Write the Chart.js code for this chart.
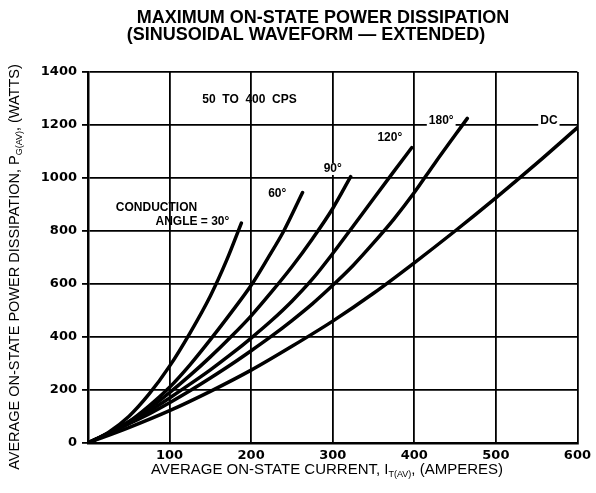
<!DOCTYPE html>
<html>
<head>
<meta charset="utf-8">
<script src="https://cdn.jsdelivr.net/npm/chart.js"></script>
<style>
    html, body { margin: 0; padding: 0; background: #fff; }
    #wrap { width: 596px; height: 493px; }
</style>
</head>
<body>
<div id="wrap"><canvas id="grafico" width="596" height="493"></canvas></div>
<script>
// ejes
const xTicks = [0, 100, 200, 300, 400, 500, 600];
const yTicks = [0, 200, 400, 600, 800, 1000, 1200, 1400];

// corriente (A) y potencia (W) de cada curva
const i30 = [0, 25, 50, 75, 100, 125, 150, 170, 188];
const p30 = [0, 40, 100, 185, 290, 415, 555, 690, 830];

const i60 = [0, 25, 50, 75, 100, 125, 150, 175, 200, 220, 240, 263];
const p60 = [0, 38, 80, 140, 210, 295, 390, 490, 595, 695, 800, 945];

const i90 = [0, 25, 50, 75, 100, 125, 150, 175, 200, 225, 250, 275, 300, 322];
const p90 = [0, 37, 80, 130, 190, 255, 325, 400, 480, 570, 665, 770, 885, 1005];

const i120 = [0, 25, 50, 75, 100, 125, 150, 175, 200, 225, 250, 275, 300, 325, 350, 375, 397];
const p120 = [0, 36, 75, 120, 170, 222, 276, 334, 396, 462, 535, 618, 715, 818, 922, 1025, 1115];

const i180 = [0, 25, 50, 75, 100, 125, 150, 175, 200, 225, 250, 275, 300, 325, 350, 375, 400, 425, 465];
const p180 = [0, 35, 72, 110, 152, 197, 245, 295, 348, 403, 462, 525, 595, 670, 755, 845, 945, 1055, 1225];

const iDC = [0, 50, 100, 150, 200, 250, 300, 350, 400, 450, 500, 550, 600];
const pDC = [0, 58, 122, 195, 275, 365, 460, 565, 680, 800, 925, 1055, 1190];

const curvas = [
    { nombre: "30°", i: i30, p: p30 },
    { nombre: "60°", i: i60, p: p60 },
    { nombre: "90°", i: i90, p: p90 },
    { nombre: "120°", i: i120, p: p120 },
    { nombre: "180°", i: i180, p: p180 },
    { nombre: "DC", i: iDC, p: pDC }
];

// etiquetas dentro de la grafica (posicion en unidades de datos)
const etiquetas = [
    { t: "50  TO  400  CPS", x: 198, y: 1294, fondo: false },
    { t: "CONDUCTION", x: 84, y: 887, fondo: false },
    { t: "ANGLE = 30°", x: 128, y: 834, fondo: false },
    { t: "60°", x: 232, y: 940, fondo: false },
    { t: "90°", x: 300, y: 1034, fondo: true },
    { t: "120°", x: 370, y: 1151, fondo: false },
    { t: "180°", x: 433, y: 1215, fondo: true },
    { t: "DC", x: 565, y: 1215, fondo: true }
];

const FUENTE = '"Liberation Sans", Arial, sans-serif';

function textoConSub(ctx, partes, cx, cy, ang, size) {
    ctx.save();
    ctx.translate(cx, cy);
    ctx.rotate(ang);
    ctx.textBaseline = "middle";
    ctx.textAlign = "left";
    const fMain = size + "px " + FUENTE;
    const fSub = Math.round(size * 0.62) + "px " + FUENTE;
    let total = 0;
    const anchos = partes.map(([t, sub]) => {
        ctx.font = sub ? fSub : fMain;
        const w = ctx.measureText(t).width;
        total += w;
        return w;
    });
    let x = -total / 2;
    partes.forEach(([t, sub], k) => {
        ctx.font = sub ? fSub : fMain;
        ctx.fillText(t, x, sub ? size * 0.3 : 0);
        x += anchos[k];
    });
    ctx.restore();
}

const textos = {
    id: "textos",
    beforeDatasetsDraw(chart) {
        const ctx = chart.ctx;
        const xs = chart.scales.x, ys = chart.scales.y;
        ctx.save();
        ctx.font = "bold 12px " + FUENTE;
        ctx.textAlign = "center";
        ctx.textBaseline = "middle";
        etiquetas.forEach(e => {
            const px = xs.getPixelForValue(e.x);
            const py = ys.getPixelForValue(e.y);
            if (e.fondo) {
                const w = ctx.measureText(e.t).width;
                ctx.fillStyle = "#fff";
                ctx.fillRect(px - w / 2 - 2, py - 6, w + 4, 12);
            }
            ctx.fillStyle = "#000";
            ctx.fillText(e.t, px, py);
        });
        ctx.restore();
    },
    afterDraw(chart) {
        const ctx = chart.ctx;
        ctx.save();
        ctx.fillStyle = "#000";
        ctx.textAlign = "center";
        ctx.textBaseline = "alphabetic";
        ctx.font = "bold 18px " + FUENTE;
        ctx.fillText("MAXIMUM ON-STATE POWER DISSIPATION", 323, 23);
        ctx.fillText("(SINUSOIDAL WAVEFORM — EXTENDED)", 306, 40);
        ctx.restore();

        textoConSub(ctx, [["AVERAGE ON-STATE CURRENT, I", false], ["T(AV)", true], [", (AMPERES)", false]],
            327, 470, 0, 15);
        textoConSub(ctx, [["AVERAGE ON-STATE POWER DISSIPATION, P", false], ["G(AV)", true], [", (WATTS)", false]],
            15, 267, -Math.PI / 2, 14.5);
    }
};

const ctx = document.getElementById("grafico").getContext("2d");

new Chart(ctx, {
    type: "scatter",
    data: {
        datasets: curvas.map(c => ({
            label: c.nombre,
            data: c.i.map((v, k) => ({ x: v, y: c.p[k] })),
            showLine: true,
            borderColor: "#000",
            borderWidth: 3.5,
            pointRadius: 0,
            cubicInterpolationMode: "monotone",
            borderCapStyle: "round",
            fill: false
        }))
    },
    options: {
        responsive: false,
        animation: false,
        devicePixelRatio: 1,
        layout: { padding: { top: 72, right: 16, left: 0, bottom: 0 } },
        plugins: {
            legend: { display: false },
            tooltip: { enabled: false },
            title: { display: false }
        },
        scales: {
            x: {
                type: "linear",
                min: xTicks[0],
                max: xTicks[xTicks.length - 1],
                afterBuildTicks: s => { s.ticks = xTicks.map(v => ({ value: v })); },
                afterFit: s => { s.height = 50; },
                grid: { color: "#000", lineWidth: 1.8, drawTicks: false },
                border: { color: "#000", width: 2.5 },
                ticks: {
                    padding: 5,
                    color: "#000",
                    font: { family: "DejaVu Sans", weight: "bold", size: 13 },
                    callback: v => (v === 0 ? "" : String(v))
                }
            },
            y: {
                type: "linear",
                min: yTicks[0],
                max: yTicks[yTicks.length - 1],
                afterBuildTicks: s => { s.ticks = yTicks.map(v => ({ value: v })); },
                afterFit: s => { s.width = 88; },
                grid: { color: "#000", lineWidth: 1.8, tickLength: 6 },
                border: { color: "#000", width: 2.5 },
                ticks: {
                    padding: 5,
                    color: "#000",
                    font: { family: "DejaVu Sans", weight: "bold", size: 13 },
                    callback: v => String(v)
                }
            }
        }
    },
    plugins: [textos]
});
</script>
</body>
</html>
